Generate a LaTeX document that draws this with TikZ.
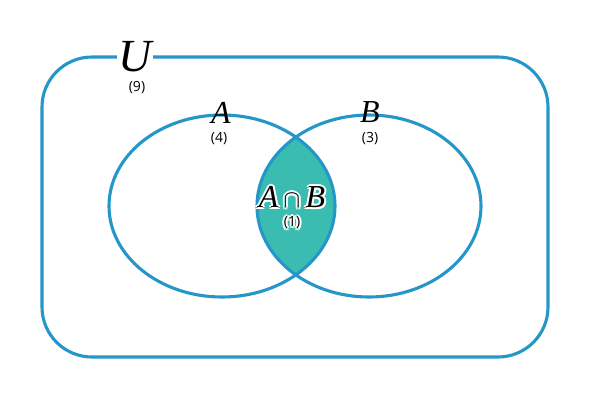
\documentclass[tikz,border=0pt]{standalone}
\usepackage{fontspec}
\setmainfont{Liberation Serif}
\newfontfamily\lab{Open Sans}
\begin{document}
\begin{tikzpicture}[x=1pt,y=-1pt,
  edge/.style={draw=vblue,line width=3.1pt},
  big/.style={font=\fontsize{32}{32}\selectfont\itshape},
  cnt/.style={font=\lab\fontsize{14}{14}\selectfont},
  halo/.style={text=white}]
\definecolor{vblue}{HTML}{2496C8}
\definecolor{vteal}{HTML}{3ABDB0}
\useasboundingbox (0,0) rectangle (590,413);
\begin{scope}
\clip (222,206) ellipse [x radius=113, y radius=91];
\fill[vteal] (369,206) ellipse [x radius=112, y radius=91];
\end{scope}
\draw[edge,rounded corners=50pt] (42,57) rectangle (548,357);
\draw[edge] (222,206) ellipse [x radius=113, y radius=91];
\draw[edge] (369,206) ellipse [x radius=112, y radius=91];
\node[big,font=\fontsize{46}{46}\selectfont\itshape,fill=white,inner sep=1pt] (U) at (135,57) {U};
\node[cnt] (Un) at (137,88) {(9)};
\node[big] (A) at (221,113) {A};
\node[cnt] (An) at (219,139) {(4)};
\node[big] (B) at (370,112) {B};
\node[cnt] (Bn) at (370,139) {(3)};
\foreach \dx/\dy in {-2/0,2/0,0/-2,0/2,-1.5/-1.5,1.5/1.5,-1.5/1.5,1.5/-1.5}{
  \node[big,halo] at (292+\dx,197+\dy) {A\,$\cap$\,B};
  \node[cnt,halo] at (292+\dx,223+\dy) {(1)};
}
\node[big] (AB) at (292,197) {A\,$\cap$\,B};
\node[cnt] (ABn) at (292,223) {(1)};
\end{tikzpicture}
\end{document}
